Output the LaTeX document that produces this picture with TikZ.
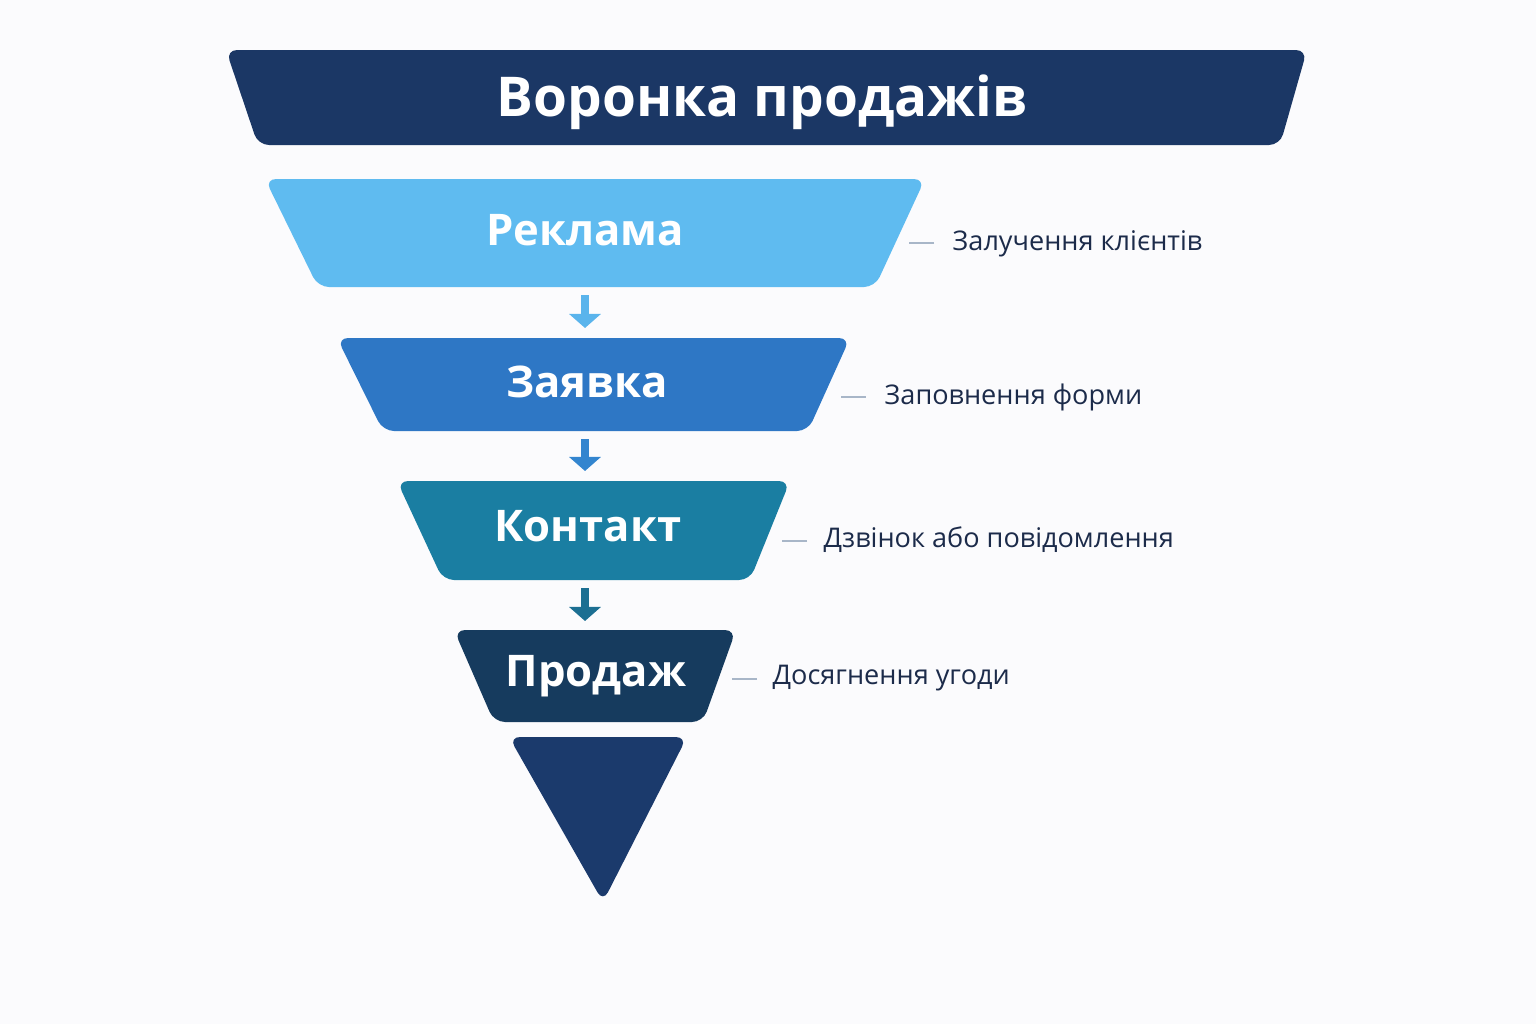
\documentclass[tikz,border=0pt]{standalone}
\usepackage{fontspec}
\setmainfont{Open Sans}
\usetikzlibrary{arrows.meta}
\definecolor{bgcol}{HTML}{FBFBFD}
\definecolor{titlecol}{HTML}{1B3765}
\definecolor{stageA}{HTML}{5FBBF0}
\definecolor{stageB}{HTML}{2E77C5}
\definecolor{stageC}{HTML}{1A7EA2}
\definecolor{stageD}{HTML}{163B5E}
\definecolor{tipcol}{HTML}{1B3A6C}
\definecolor{arrowA}{HTML}{5AB4EC}
\definecolor{arrowB}{HTML}{3385CF}
\definecolor{arrowC}{HTML}{1C6F92}
\definecolor{notecol}{HTML}{1C2B4A}
\definecolor{tickcol}{HTML}{A8B6C8}

\begin{document}
\begin{tikzpicture}[x=0.01cm, y=-0.01cm,
		band/.style = {rounded corners=1.1mm},
		stage/.style = {inner sep=0pt, text depth=0pt, text=white, font=\bfseries\fontsize{12.4}{15}\selectfont},
		note/.style = {anchor=base west, inner sep=0pt, text=notecol, font=\fontsize{7.7}{9}\selectfont},
		tick/.style = {draw=tickcol, line width=0.5pt},
		flow/.style = {-{Triangle[width=3.1mm,length=1.4mm]}, line width=0.8mm, shorten <=0.8mm, shorten >=1mm}]
		\fill[bgcol] (0,0) rectangle (1536,1024);
		\useasboundingbox (0,0) rectangle (1536,1024);
		
		%Title bar
		\fill[band, titlecol] (226,50) -- (1307,50) -- (1280,145) -- (258,145) -- cycle;
		\node[stage, font=\bfseries\fontsize{15.6}{18}\selectfont] (title) at (762,96) {Воронка продажів};
		
		%Funnel stages
		\fill[band, stageA] (265,179) -- (925,179) -- (875,287) -- (318,287) -- cycle;
		\fill[band, stageB] (337,338) -- (850,338) -- (808,431) -- (383,431) -- cycle;
		\fill[band, stageC] (397,481) -- (790,481) -- (750,580) -- (443,580) -- cycle;
		\fill[band, stageD] (454,630) -- (736,630) -- (703,722) -- (494,722) -- cycle;
		\node[stage] (s1) at (585,230) {Реклама};
		\node[stage] (s2) at (587,382) {Заявка};
		\node[stage] (s3) at (588,526) {Контакт};
		\node[stage] (s4) at (596,671) {Продаж};
		
		%Funnel tip
		\fill[band, tipcol] (509,737) -- (687,737) -- (603,902) -- cycle;
		
		%Arrows between stages
		\coordinate (s1b) at (585,287);
		\coordinate (s2t) at (585,338);
		\coordinate (s2b) at (585,431);
		\coordinate (s3t) at (585,481);
		\coordinate (s3b) at (585,580);
		\coordinate (s4t) at (585,631);
		\draw[flow, draw=arrowA] (s1b) -- (s2t); %Реклама -> Заявка
		\draw[flow, draw=arrowB] (s2b) -- (s3t); %Заявка -> Контакт
		\draw[flow, draw=arrowC] (s3b) -- (s4t); %Контакт -> Продаж
		
		%Side notes
		\node[note] (l1) at (952,250) {Залучення клієнтів};
		\node[note] (l2) at (884,404) {Заповнення форми};
		\node[note] (l3) at (823,547) {Дзвінок або повідомлення};
		\node[note] (l4) at (772,684) {Досягнення угоди};
		\draw[tick] ([xshift=-1.8mm,yshift=0.7mm]l1.base west) -- ++(-2.5mm,0);
		\draw[tick] ([xshift=-1.8mm,yshift=0.7mm]l2.base west) -- ++(-2.5mm,0);
		\draw[tick] ([xshift=-1.6mm,yshift=0.6mm]l3.base west) -- ++(-2.5mm,0);
		\draw[tick] ([xshift=-1.5mm,yshift=0.5mm]l4.base west) -- ++(-2.5mm,0);
	\end{tikzpicture}
\end{document}
